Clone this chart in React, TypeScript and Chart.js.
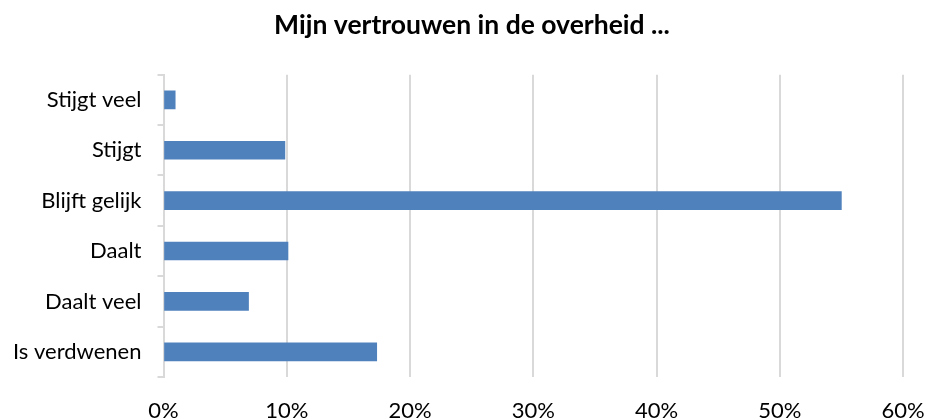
import React, { useEffect, useRef } from "react";
import { Chart, registerables } from "chart.js";

Chart.register(...registerables);

const title = "Mijn vertrouwen in de overheid ...";
const categories = ["Stijgt veel", "Stijgt", "Blijft gelijk", "Daalt", "Daalt veel", "Is verdwenen"];
const values = [0.95, 9.85, 55.0, 10.1, 6.9, 17.3];
const xTicks = [0, 10, 20, 30, 40, 50, 60];

const FONT = "Lato, 'Open Sans', sans-serif";

const titlePlugin = {
  id: "customTitle",
  afterDraw(chart: any) {
    const ctx = chart.ctx;
    ctx.save();
    ctx.font = `bold 26.5px ${FONT}`;
    ctx.fillStyle = "#000";
    ctx.textAlign = "center";
    ctx.textBaseline = "alphabetic";
    ctx.fillText(title, 472, 33.5);
    ctx.restore();
  },
};

export default function App() {
  const ref = useRef<HTMLCanvasElement | null>(null);
  useEffect(() => {
    document.body.style.margin = "0";
    if (!ref.current) return;
    const chart = new Chart(ref.current, {
      type: "bar",
      data: {
        labels: categories,
        datasets: [
          {
            data: values,
            backgroundColor: "#4F81BD",
            borderWidth: 0,
            barThickness: 18,
          },
        ],
      },
      plugins: [titlePlugin],
      options: {
        indexAxis: "y",
        animation: false,
        responsive: false,
        maintainAspectRatio: false,
        layout: { padding: { left: 0, right: 22, top: 74.7, bottom: 0 } },
        plugins: {
          legend: { display: false },
          tooltip: { enabled: false },
          title: { display: false },
        },
        scales: {
          x: {
            min: 0,
            max: 60,
            afterBuildTicks: (s: any) => {
              s.ticks = xTicks.map((v) => ({ value: v }));
            },
            afterFit: (s: any) => {
              s.height = 42;
              s.paddingLeft = 0;
              s.paddingRight = 0;
            },
            ticks: {
              callback: (v: any) => v + "%",
              color: "#000",
              font: { family: FONT, size: 22 },
              padding: 21,
              maxRotation: 0,
            },
            grid: { color: "#D9D9D9", lineWidth: 2, drawTicks: false },
            border: { display: false },
          },
          y: {
            afterFit: (s: any) => {
              s.width = 163.5;
              s.paddingTop = 0;
              s.paddingBottom = 0;
            },
            ticks: {
              color: "#000",
              font: { family: FONT, size: 22 },
              padding: 16,
            },
            grid: {
              color: "#D9D9D9",
              lineWidth: 2,
              drawOnChartArea: false,
              drawTicks: true,
              tickLength: 6,
            },
            border: { display: true, color: "#D9D9D9", width: 2 },
          },
        },
      },
    });
    return () => chart.destroy();
  }, []);
  return (
    <div style={{ width: 925, height: 419 }}>
      <canvas ref={ref} width={925} height={419} style={{ display: "block" }} />
    </div>
  );
}
